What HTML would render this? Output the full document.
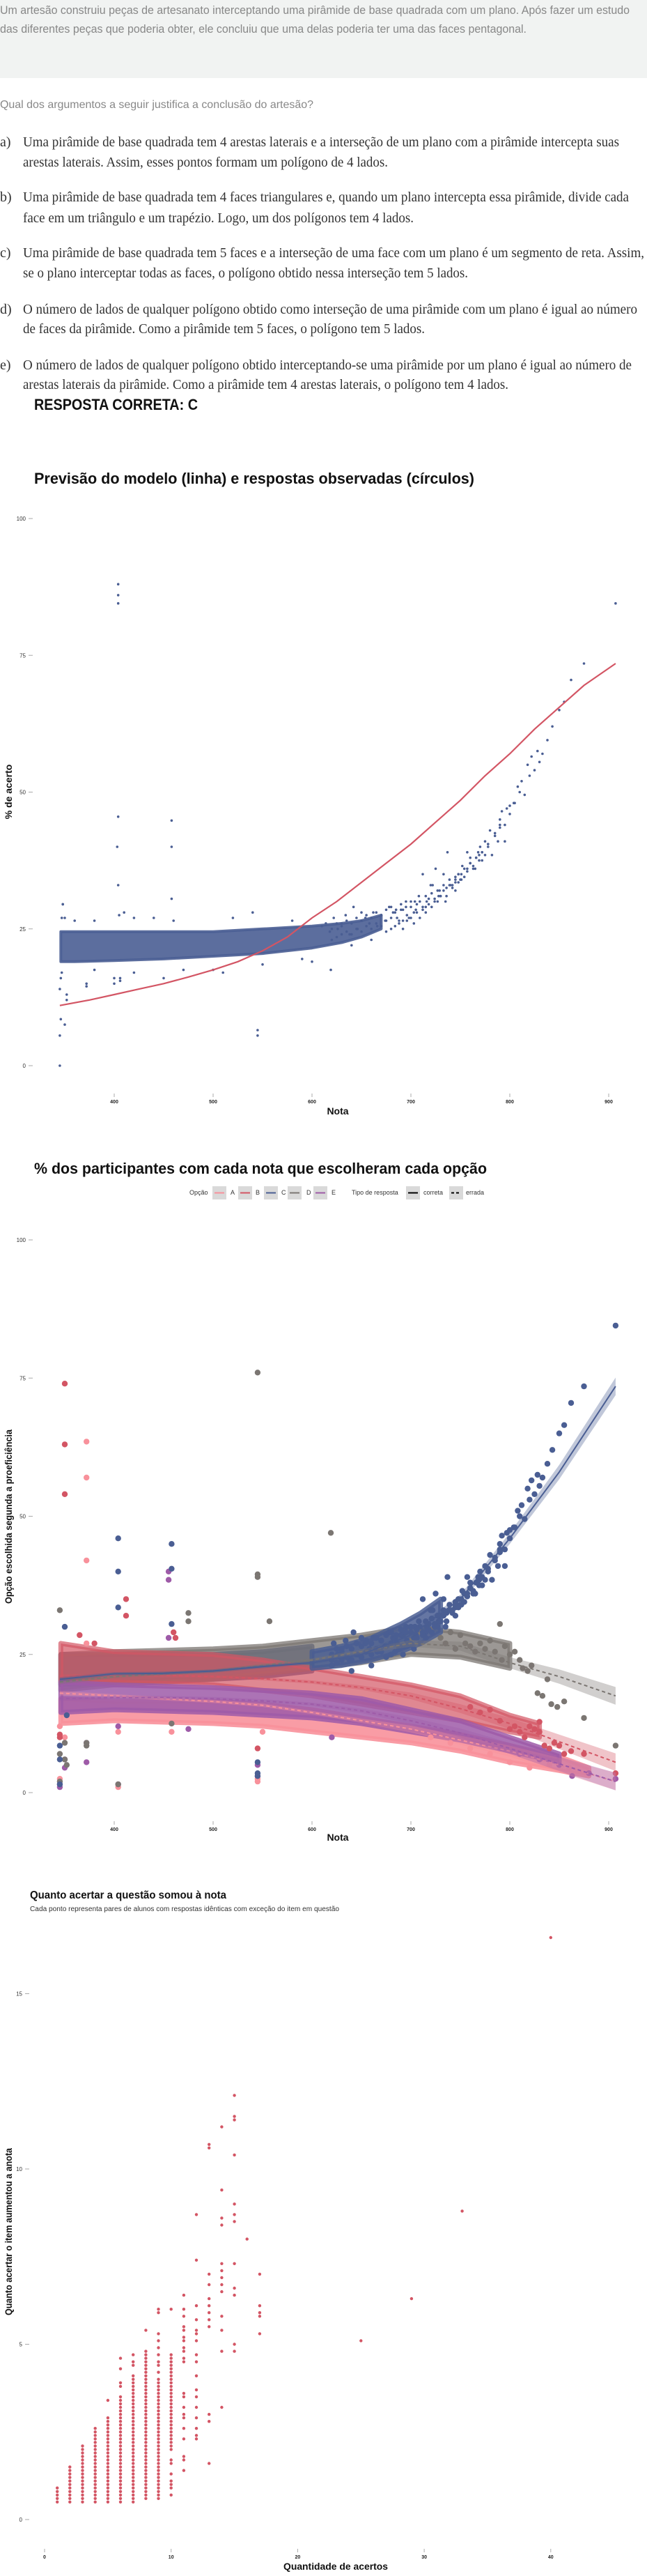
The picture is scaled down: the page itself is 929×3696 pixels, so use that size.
<!DOCTYPE html>
<html lang="pt">
<head>
<meta charset="utf-8">
<title>Questão e gráficos</title>
<style>
  html,body{margin:0;padding:0;background:#fff;}
  body{width:929px;height:3696px;overflow:hidden;}
  svg{display:block;}
  .sans{font-family:"Liberation Sans",sans-serif;}
  .serif{font-family:"Liberation Serif",serif;}
</style>
</head>
<body>
<svg id="page" width="929" height="3696" viewBox="0 0 929 3696" xmlns="http://www.w3.org/2000/svg">
  <rect x="0" y="0" width="929" height="112" fill="#F1F3F2"/>
  <g class="sans" font-size="17" fill="#888">
    <text x="0" y="20" textLength="904" lengthAdjust="spacingAndGlyphs">Um artesão construiu peças de artesanato interceptando uma pirâmide de base quadrada com um plano. Após fazer um estudo</text>
    <text x="0" y="47" textLength="756" lengthAdjust="spacingAndGlyphs">das diferentes peças que poderia obter, ele concluiu que uma delas poderia ter uma das faces pentagonal.</text>
  </g>
  <text class="sans" x="0" y="155" font-size="16" fill="#888" textLength="450" lengthAdjust="spacingAndGlyphs">Qual dos argumentos a seguir justifica a conclusão do artesão?</text>

  <g class="serif" font-size="20" fill="#333">
    <g>
      <text x="0" y="210">a)</text>
      <text x="33" y="210" textLength="856" lengthAdjust="spacingAndGlyphs">Uma pirâmide de base quadrada tem 4 arestas laterais e a interseção de um plano com a pirâmide intercepta suas</text>
      <text x="33" y="239" textLength="524" lengthAdjust="spacingAndGlyphs">arestas laterais. Assim, esses pontos formam um polígono de 4 lados.</text>
    </g>
    <g>
      <text x="0" y="289">b)</text>
      <text x="33" y="289" textLength="870" lengthAdjust="spacingAndGlyphs">Uma pirâmide de base quadrada tem 4 faces triangulares e, quando um plano intercepta essa pirâmide, divide cada</text>
      <text x="33" y="319" textLength="561" lengthAdjust="spacingAndGlyphs">face em um triângulo e um trapézio. Logo, um dos polígonos tem 4 lados.</text>
    </g>
    <g>
      <text x="0" y="369">c)</text>
      <text x="33" y="369" textLength="892" lengthAdjust="spacingAndGlyphs">Uma pirâmide de base quadrada tem 5 faces e a interseção de uma face com um plano é um segmento de reta. Assim,</text>
      <text x="33" y="398" textLength="639" lengthAdjust="spacingAndGlyphs">se o plano interceptar todas as faces, o polígono obtido nessa interseção tem 5 lados.</text>
    </g>
    <g>
      <text x="0" y="450">d)</text>
      <text x="33" y="450" textLength="882" lengthAdjust="spacingAndGlyphs">O número de lados de qualquer polígono obtido como interseção de uma pirâmide com um plano é igual ao número</text>
      <text x="33" y="478" textLength="577" lengthAdjust="spacingAndGlyphs">de faces da pirâmide. Como a pirâmide tem 5 faces, o polígono tem 5 lados.</text>
    </g>
    <g>
      <text x="0" y="530">e)</text>
      <text x="33" y="530" textLength="874" lengthAdjust="spacingAndGlyphs">O número de lados de qualquer polígono obtido interceptando-se uma pirâmide por um plano é igual ao número de</text>
      <text x="33" y="558" textLength="697" lengthAdjust="spacingAndGlyphs">arestas laterais da pirâmide. Como a pirâmide tem 4 arestas laterais, o polígono tem 4 lados.</text>
    </g>
  </g>
  <text class="sans" x="49" y="588" font-size="22" font-weight="bold" fill="#111" textLength="235" lengthAdjust="spacingAndGlyphs">RESPOSTA CORRETA: C</text>

  <text class="sans" x="49" y="694" font-size="22" font-weight="bold" fill="#111" textLength="632" lengthAdjust="spacingAndGlyphs">Previsão do modelo (linha) e respostas observadas (círculos)</text>
  <text class="sans" x="49" y="1684" font-size="22" font-weight="bold" fill="#111" textLength="650" lengthAdjust="spacingAndGlyphs">% dos participantes com cada nota que escolheram cada opção</text>
  <text class="sans" x="43" y="2724" font-size="16" font-weight="bold" fill="#111" textLength="282" lengthAdjust="spacingAndGlyphs">Quanto acertar a questão somou à nota</text>
  <text class="sans" x="43" y="2742" font-size="10" fill="#333" textLength="444" lengthAdjust="spacingAndGlyphs">Cada ponto representa pares de alunos com respostas idênticas com exceção do item em questão</text>

  <text class="sans" x="485" y="1599" font-size="14" font-weight="bold" fill="#111" text-anchor="middle">Nota</text>
  <text class="sans" transform="translate(17,1136) rotate(-90)" font-size="14" font-weight="bold" fill="#111" text-anchor="middle">% de acerto</text>
  <text class="sans" x="485" y="2641" font-size="14" font-weight="bold" fill="#111" text-anchor="middle">Nota</text>
  <text class="sans" transform="translate(17,2176) rotate(-90)" font-size="14" font-weight="bold" fill="#111" text-anchor="middle" textLength="250" lengthAdjust="spacingAndGlyphs">Opção escolhida segunda a proeficiência</text>
  <text class="sans" x="482" y="3687" font-size="14" font-weight="bold" fill="#111" text-anchor="middle" textLength="150" lengthAdjust="spacingAndGlyphs">Quantidade de acertos</text>
  <text class="sans" transform="translate(17,3202) rotate(-90)" font-size="14" font-weight="bold" fill="#111" text-anchor="middle" textLength="240" lengthAdjust="spacingAndGlyphs">Quanto acertar o item aumentou a anota</text>

  <g class="sans" font-size="9" fill="#333">
    <text x="272" y="1714">Opção</text>
    <g><rect x="305" y="1702" width="20" height="19" fill="#D9D9D9"/><line x1="308" y1="1711.5" x2="322" y2="1711.5" stroke="#F8919B" stroke-width="2"/><text x="331" y="1714">A</text></g>
    <g><rect x="342" y="1702" width="20" height="19" fill="#D9D9D9"/><line x1="345" y1="1711.5" x2="359" y2="1711.5" stroke="#D35564" stroke-width="2"/><text x="367" y="1714">B</text></g>
    <g><rect x="379" y="1702" width="20" height="19" fill="#D9D9D9"/><line x1="382" y1="1711.5" x2="396" y2="1711.5" stroke="#4A5E93" stroke-width="2"/><text x="404" y="1714">C</text></g>
    <g><rect x="413" y="1702" width="20" height="19" fill="#D9D9D9"/><line x1="416" y1="1711.5" x2="430" y2="1711.5" stroke="#7B7672" stroke-width="2"/><text x="440" y="1714">D</text></g>
    <g><rect x="450" y="1702" width="20" height="19" fill="#D9D9D9"/><line x1="453" y1="1711.5" x2="467" y2="1711.5" stroke="#9E5BA8" stroke-width="2"/><text x="476" y="1714">E</text></g>
    <text x="505" y="1714">Tipo de resposta</text>
    <g><rect x="583" y="1702" width="20" height="19" fill="#D9D9D9"/><line x1="586" y1="1711.5" x2="600" y2="1711.5" stroke="#000" stroke-width="2"/><text x="608" y="1714">correta</text></g>
    <g><rect x="645" y="1702" width="20" height="19" fill="#D9D9D9"/><line x1="648" y1="1711.5" x2="662" y2="1711.5" stroke="#000" stroke-width="2" stroke-dasharray="4,3"/><text x="669" y="1714">errada</text></g>
  </g>

  <g id="chart1"></g>
  <g id="chart2"></g>
  <g id="chart3"></g>
</svg>

<script>
// ---------- Chart 1 data ----------
const c1YTicks = [0, 25, 50, 75, 100];
const c1XTicks = [400, 500, 600, 700, 800, 900];
const c1CurveNota = [345, 375, 400, 425, 450, 475, 500, 525, 550, 575, 600, 625, 650, 675, 700, 725, 750, 775, 800, 825, 850, 875, 907];
const c1CurveVal  = [11, 12, 13, 14, 15, 16.2, 17.5, 19, 21, 23.5, 27, 30, 33.5, 37, 40.5, 44.5, 48.5, 53, 57, 61.5, 65.5, 69.5, 73.5];
const c1BandNota = [346, 360, 400, 450, 500, 550, 600, 630, 650, 670];
const c1BandLo   = [19, 19, 19.2, 19.5, 20, 20.5, 21.5, 22.5, 23.5, 25];
const c1BandHi   = [24.5, 24.5, 24.5, 24.5, 24.5, 25, 25.5, 26, 26.5, 27.5];
const c1PtNota = [345,345,346,350,345,346,347,352,352,348,347,372,372,400,404,404,404,404,403,404,406,406,458,458,458,545,545,619,
  907,875,862,855,850,843,838,833,828,822,818,812,808,804,800,797,792,790,788,785,782,778,775,772,768,765,760,757,752,748,745,740,737,733,729,725,720,716,712,708,704,700,
  695,690,686,682,678,674,670,666,662,658,654,650,646,642,638,634,630,626,622,618,614,610,
  760,770,780,790,795,750,745,735,728,722,715,705,698,692,
  348,350,360,380,405,410,420,440,460,520,540,580,380,400,420,450,470,500,510,550,590,600,640,660,675,
  680,684,688,692,696,700,703,706,709,712,715,718,721,724,727,730,733,736,739,742,745,748,751,754,757,760,763,766,769,772,775,778,
  680,684,688,692,696,700,703,706,709,712,715,718,721,724,727,730,733,736,739,742,745,748,751,754,757,760,763,766,769,772,
  620,625,630,635,640,645,650,655,660,665,670,675,680,685,690,695,
  620,625,630,635,640,645,650,655,660,665,670,675,
  785,790,795,800,805,810,815,820,825,830];
const c1PtVal = [0,5.5,8.5,7.5,14,16,17,13,12,29.5,27,15,14.5,15,88,86,84.5,45.5,40,33,16,15.5,44.8,40,30.5,6.5,5.5,17.5,
  84.5,73.5,70.5,66.5,65,62,59.5,57,57.5,56.5,55,52,51,48,46,47,46.5,44,41,42.5,38.5,40.5,41,37.5,39,36,37,39,36.5,35,33.5,33,39,35,32,36,33,30,35,31,30,30,
  29,28.5,27,28,29,26.5,27.5,25.5,28,26,27,28,25,29,24,27.5,26,25,27,24.5,26,25.5,
  38,40,43,45,41,34,32,30,31,33,29,28.5,27,26.5,
  29.5,27,26.5,26.5,27.5,28,27,27,26.5,27,28,26.5,17.5,16,17,16,17.5,17.5,17,18.5,19.5,19,22,23,24.5,
  27,28,26.5,28.5,27.5,29,28,29.5,30,29,31,30.5,31.5,30,32,31,33,32.5,34,33,34.5,35,34,36,35.5,37,36,38,37.5,39,38.5,40,
  25,25.5,26,25,26.5,27,26,28,27,28.5,28,29.5,29,30.5,30,31,32,31,33,32.5,34,33.5,35,34.5,36,37,36.5,38,38.5,39,
  25,26,25.5,26.5,26,27,26.5,27.5,27,28,27.5,28.5,29,28.5,29.5,30,
  23,23.5,24,24.5,24,25,24.5,25.5,25,26,25.5,26.5,
  42,43.5,44,47.5,48,50,49.5,53,54,55.5];

// ---------- Chart 2 data ----------
const c2YTicks = [0, 25, 50, 75, 100];
const c2XTicks = [400, 500, 600, 700, 800, 900];
const c2LineNota = [345, 400, 450, 500, 550, 600, 650, 700, 750, 800, 850, 907];
const c2LineA = [18, 17.5, 17, 16.5, 15.8, 14.5, 13, 11.5, 9.5, 7.5, 5, 2];
const c2LineB = [21, 21.2, 21.2, 21, 20.6, 20, 19, 17.5, 15.2, 12.5, 9.2, 5.5];
const c2LineC = [20.5, 21.5, 21.6, 22, 22.8, 23.5, 25, 28.5, 35, 46, 58, 73.5];
const c2LineD = [20, 21, 21.5, 22, 23, 24, 25.5, 27, 26.5, 23.5, 21, 17.5];
const c2LineE = [17, 17.2, 17.2, 17, 16.6, 16, 14.8, 13, 10.8, 8, 5.2, 2];
const c2Ribbon = [0.4, 0.3, 0.3, 0.3, 0.3, 0.3, 0.4, 0.6, 0.8, 1.0, 1.3, 1.6];
const c2BandANota = [346, 400, 500, 550, 600, 650, 700, 750, 800, 850, 880];
const c2BandALo = [12.5, 13, 12.5, 12, 11, 10, 9, 7.5, 5.5, 4, 3];
const c2BandAHi = [17, 16.5, 16.5, 16, 15, 13.5, 12, 10.5, 8.5, 6.5, 4.5];
const c2BandENota = [346, 400, 500, 600, 650, 700, 750, 800, 850];
const c2BandELo = [14.5, 15, 14.5, 13.5, 12.5, 11, 9.5, 7.5, 5.5];
const c2BandEHi = [20, 19.5, 19, 18, 17, 15, 13, 10, 7];
const c2BandBNota = [346, 400, 500, 550, 600, 650, 700, 750, 800, 830];
const c2BandBLo = [20, 20, 19.5, 18.5, 17.5, 16, 14.5, 13, 11, 10];
const c2BandBHi = [27, 25.5, 25, 24, 22.5, 21, 19.5, 17.5, 14, 12.5];
const c2BandDNota = [346, 400, 500, 550, 600, 650, 700, 750, 800];
const c2BandDLo = [18.5, 19.5, 20.5, 21.5, 22.5, 23.5, 25, 24.5, 22.5];
const c2BandDHi = [25, 25.5, 26, 26.5, 27.5, 28.5, 30, 29, 27];
const c2BandCLowNota = [346, 400, 500, 550, 600];
const c2BandCLowLo = [19.5, 20, 20.5, 21, 22];
const c2BandCLowHi = [25, 25, 25, 25.5, 26.5];
const c2BandCHighNota = [600, 630, 660, 690, 710, 730];
const c2BandCHighLo = [22.5, 23, 24, 25.5, 27, 29];
const c2BandCHighHi = [25.5, 26.5, 28, 30.5, 32.5, 35];
const c2PtANota = [372,372,372,372,345,404,404,458,545,545,550,800,820,840,860,880,907,345,350,780,760,740,720];
const c2PtAVal  = [63.5,57,42,27,2.5,1,11,11,2.5,2,11,5.5,4.5,5,4.5,3.5,2.5,12,10,7,8,9,10];
const c2PtBNota = [350,350,350,412,412,460,462,345,345,545,815,820,825,830,835,840,845,850,855,862,875,907,760,770,780,790,800,805,810,830,365,380];
const c2PtBVal  = [74,63,54,35,32,29,28,10,10.5,8,10,12,11.5,11,8.5,8,9,8.5,7,7.5,7,3.5,15.5,14.5,15,13,11.5,12,11,12.8,28.5,27];
const c2PtDNota = [345,475,475,545,545,545,557,619,700,710,720,725,730,735,740,745,750,755,760,765,770,775,780,785,790,792,795,800,805,810,813,818,822,828,833,838,842,848,855,875,907,345,350,350,372,372,404,458,345,352];
const c2PtDVal  = [33,32.5,31,76,39.5,39,31,47,27.5,29,29.5,30.5,28,27,29,26,28.5,27,26.5,25.5,27,26,27.5,25.5,30.5,24,26.5,25,25.5,24,22.5,22,23,18,17.5,20.5,16,15.5,16.5,13.5,8.5,7,6,9,9,8.5,1.5,12.5,2,5];
const c2PtENota = [455,455,455,345,345,350,350,372,372,404,404,545,545,620,475,863,880,907,850,830,810,790];
const c2PtEVal  = [40,38.5,28,1,1.5,4.5,6,5.5,9,12,1.5,5,3,10,11.5,3,3.5,2.5,5,6,7,8];
const c2PtCExtraNota = [345,345,350,352,345,404,404,404,458,458,458,545,545,545,620];
const c2PtCExtraVal  = [8.5,6,30,14,1.5,46,40,33.5,45,40.5,30.5,5.5,3.5,3,24];

// ---------- Chart 3 data ----------
const c3YTicks = [0, 5, 10, 15];
const c3XTicks = [0, 10, 20, 30, 40];
const c3ColX   = [1, 2, 3, 4, 5, 6, 7, 8, 9, 10];
const c3ColMin = [0.5, 0.5, 0.5, 0.5, 0.5, 0.5, 0.5, 0.6, 0.6, 2.3];
const c3ColMax = [0.9, 1.5, 2.1, 2.6, 2.9, 3.5, 4.1, 4.8, 4.0, 4.6];
const c3PtX = [5,6,6,6,6,7,7,7,8,9,9,9,9,9,9,9,9,9,10,10,10,10,10,10,10,10,10,10,10,10,
  11,11,11,11,11,11,11,11,11,11,11,11,11,11,11,11,11,11,11,11,11,
  12,12,12,12,12,12,12,12,12,12,12,12,12,12,12,12,12,
  13,13,13,13,13,13,13,13,13,13,13,13,
  14,14,14,14,14,14,14,14,14,14,14,14,14,
  15,15,15,15,15,15,15,15,15,15,15,15,
  16,17,17,17,17,17,25,29,33,40];
const c3PtY = [3.4,3.8,3.9,4.3,4.6,4.4,4.5,4.7,5.4,4.2,4.4,4.5,4.7,4.9,5.1,5.3,5.9,6.0,0.7,0.9,1.0,1.1,1.3,1.6,1.7,2.0,2.1,2.2,4.7,6.0,
  1.4,1.7,1.8,2.3,2.6,2.9,3.0,3.2,3.5,3.6,4.5,4.6,4.8,4.9,5.1,5.2,5.4,5.5,5.8,6.0,6.4,
  2.3,2.4,2.6,2.9,3.2,3.5,3.7,4.1,4.5,4.7,5.1,5.3,5.4,5.7,6.1,7.4,8.7,
  1.6,2.8,3.0,5.5,5.7,5.9,6.1,6.3,6.7,7.0,10.6,10.7,
  3.2,4.8,5.4,5.8,6.5,6.7,6.9,7.1,7.3,8.4,8.6,9.4,11.2,
  4.8,5.0,6.4,6.6,7.3,8.5,8.7,9.0,10.4,11.4,11.5,12.1,
  8.0,5.3,5.8,5.9,6.1,7.0,5.1,6.3,8.8,16.6];

const NS = 'http://www.w3.org/2000/svg';
function el(tag, parent) { const e = document.createElementNS(NS, tag); parent.appendChild(e); return e; }

const c1x = n => 164 + (n - 400) * 1.42;
const c1y = v => 1529 - v * 7.85;
const c2x = c1x;
const c2y = v => 2572 - v * 7.93;
const c3x = k => 64 + k * 18.17;
const c3y = v => 3615 - v * 50.3;

function yAxis(g, ticks, ys, tx) {
  ticks.forEach(t => {
    const ln = el('line', g);
    
    
    ln.setAttribute('x1', tx + 4); ln.setAttribute('x2', tx + 10);
    ln.setAttribute('y1', ys(t)); ln.setAttribute('y2', ys(t));
    ln.setAttribute('stroke', '#aaa'); ln.setAttribute('stroke-width', '1');
    const tt = el('text', g);
    
    
    tt.setAttribute('x', tx); tt.setAttribute('y', ys(t) + 3);
    tt.setAttribute('text-anchor', 'end'); tt.setAttribute('font-size', '8');
    tt.setAttribute('font-family', 'Liberation Sans, sans-serif'); tt.setAttribute('fill', '#333');
    tt.textContent = t;
  });
}
function xAxis(g, ticks, xs, ly) {
  ticks.forEach(t => {
    const ln = el('line', g);
    
    
    ln.setAttribute('x1', xs(t)); ln.setAttribute('x2', xs(t));
    ln.setAttribute('y1', ly - 11); ln.setAttribute('y2', ly - 6);
    ln.setAttribute('stroke', '#aaa'); ln.setAttribute('stroke-width', '1');
    const tt = el('text', g);
    
    
    tt.setAttribute('x', xs(t)); tt.setAttribute('y', ly + 3);
    tt.setAttribute('text-anchor', 'middle'); tt.setAttribute('font-size', '7');
    tt.setAttribute('font-weight', 'bold');
    tt.setAttribute('font-family', 'Liberation Sans, sans-serif'); tt.setAttribute('fill', '#222');
    tt.textContent = t;
  });
}
function bandPath(nota, lo, hi, xs, ys) {
  let d = '';
  nota.forEach((n, i) => { d += (i ? 'L' : 'M') + xs(n).toFixed(1) + ',' + ys(hi[i]).toFixed(1); });
  for (let i = nota.length - 1; i >= 0; i--) d += 'L' + xs(nota[i]).toFixed(1) + ',' + ys(lo[i]).toFixed(1);
  return d + 'Z';
}
function linePath(nota, vals, xs, ys) {
  return nota.map((n, i) => (i ? 'L' : 'M') + xs(n).toFixed(1) + ',' + ys(vals[i]).toFixed(1)).join('');
}
function dots(g, xsArr, vsArr, xs, ys, r, color, name) {
  xsArr.forEach((n, i) => {
    const c = el('circle', g);
    
    
    c.setAttribute('cx', xs(n).toFixed(1)); c.setAttribute('cy', ys(vsArr[i]).toFixed(1));
    c.setAttribute('r', r); c.setAttribute('fill', color);
  });
}
function band(g, nota, lo, hi, xs, ys, color, op, sw, name) {
  const b = el('path', g);
  
  
  b.setAttribute('d', bandPath(nota, lo, hi, xs, ys));
  b.setAttribute('fill', color); b.setAttribute('fill-opacity', op);
  b.setAttribute('stroke', color); b.setAttribute('stroke-opacity', op);
  b.setAttribute('stroke-width', sw); b.setAttribute('stroke-linejoin', 'round');
}

// ---------- Chart 1 ----------
const g1 = document.getElementById('chart1');
yAxis(g1, c1YTicks, c1y, 37);
xAxis(g1, c1XTicks, c1x, 1580);
band(g1, c1BandNota, c1BandLo, c1BandHi, c1x, c1y, '#4A5E93', '0.9', '4', 'observed-density-band');
dots(g1, c1PtNota, c1PtVal, c1x, c1y, 1.8, '#4A5E93', 'observed-point');
const l1 = el('path', g1);


l1.setAttribute('d', linePath(c1CurveNota, c1CurveVal, c1x, c1y));
l1.setAttribute('fill', 'none'); l1.setAttribute('stroke', '#D35564'); l1.setAttribute('stroke-width', '2.2');

// ---------- Chart 2 ----------
const g2 = document.getElementById('chart2');
yAxis(g2, c2YTicks, c2y, 37);
xAxis(g2, c2XTicks, c2x, 2624);
band(g2, c2BandCLowNota, c2BandCLowLo, c2BandCLowHi, c2x, c2y, '#4A5E93', '0.9', '7', 'option-c-density-band-low');
band(g2, c2BandDNota, c2BandDLo, c2BandDHi, c2x, c2y, '#7B7672', '0.75', '7', 'option-d-density-band');
band(g2, c2BandBNota, c2BandBLo, c2BandBHi, c2x, c2y, '#D35564', '0.7', '7', 'option-b-density-band');
band(g2, c2BandANota, c2BandALo, c2BandAHi, c2x, c2y, '#F8919B', '0.9', '7', 'option-a-density-band');
band(g2, c2BandENota, c2BandELo, c2BandEHi, c2x, c2y, '#9E5BA8', '0.85', '7', 'option-e-density-band');
band(g2, c2BandCHighNota, c2BandCHighLo, c2BandCHighHi, c2x, c2y, '#4A5E93', '0.85', '7', 'option-c-density-band-high');
dots(g2, c2PtANota, c2PtAVal, c2x, c2y, 4.2, '#F8919B', 'option-a-point');
dots(g2, c2PtENota, c2PtEVal, c2x, c2y, 4.2, '#9E5BA8', 'option-e-point');
dots(g2, c2PtBNota, c2PtBVal, c2x, c2y, 4.2, '#D35564', 'option-b-point');
dots(g2, c2PtDNota, c2PtDVal, c2x, c2y, 4.2, '#7B7672', 'option-d-point');
dots(g2, c2PtCExtraNota, c2PtCExtraVal, c2x, c2y, 4.2, '#4A5E93', 'option-c-point');
dots(g2, c1PtNota.filter(n => n >= 620), c1PtVal.filter((v, i) => c1PtNota[i] >= 620), c2x, c2y, 4.2, '#4A5E93', 'option-c-point');
const lines2 = [
  {name: 'a', color: '#F8919B', vals: c2LineA, dash: '5,4'},
  {name: 'e', color: '#9E5BA8', vals: c2LineE, dash: '5,4'},
  {name: 'b', color: '#D35564', vals: c2LineB, dash: '5,4'},
  {name: 'd', color: '#7B7672', vals: c2LineD, dash: '5,4'},
  {name: 'c', color: '#4A5E93', vals: c2LineC, dash: null}
];
lines2.forEach(s => {
  const hi = s.vals.map((v, i) => v + c2Ribbon[i]);
  const lo = s.vals.map((v, i) => v - c2Ribbon[i]);
  const r = el('path', g2);
  
  
  r.setAttribute('d', bandPath(c2LineNota, lo, hi, c2x, c2y));
  r.setAttribute('fill', s.color); r.setAttribute('fill-opacity', '0.35');
  const p = el('path', g2);
  
  
  p.setAttribute('d', linePath(c2LineNota, s.vals, c2x, c2y));
  p.setAttribute('fill', 'none'); p.setAttribute('stroke', s.color); p.setAttribute('stroke-width', '2');
  if (s.dash) p.setAttribute('stroke-dasharray', s.dash);
});

// ---------- Chart 3 ----------
const g3 = document.getElementById('chart3');
yAxis(g3, c3YTicks, c3y, 32);
xAxis(g3, c3XTicks, c3x, 3668);
c3ColX.forEach((k, i) => {
  for (let v = c3ColMin[i]; v <= c3ColMax[i] + 1e-6; v += 0.1) {
    const c = el('circle', g3);
    
    
    c.setAttribute('cx', c3x(k).toFixed(1)); c.setAttribute('cy', c3y(v).toFixed(1));
    c.setAttribute('r', 2.2); c.setAttribute('fill', '#D35564');
  }
});
dots(g3, c3PtX, c3PtY, c3x, c3y, 2.2, '#D35564', 'pair-point');
</script>
</body>
</html>
